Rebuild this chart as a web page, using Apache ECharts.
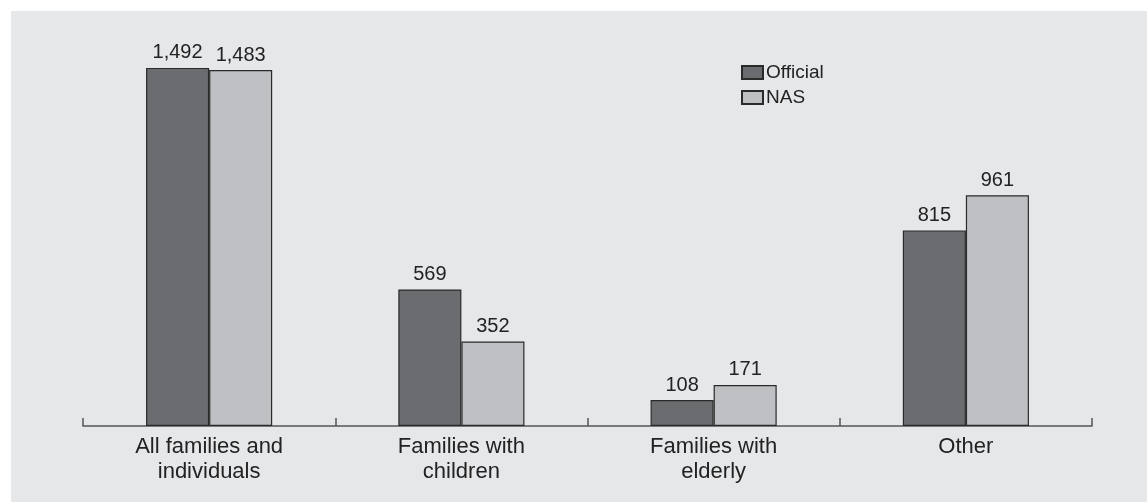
<!DOCTYPE html>
<html><head><meta charset="utf-8">
<script src="https://cdn.jsdelivr.net/npm/echarts@6/dist/echarts.min.js"></script>
<style>
html,body{margin:0;padding:0;background:#fff;width:1147px;height:502px;overflow:hidden;}
#c{position:absolute;left:11px;top:11px;width:1136px;height:491px;background:#e6e7e9;}
</style></head><body>
<div id="c"></div>
<script>
const categories = ['All families and\nindividuals', 'Families with\nchildren', 'Families with\nelderly', 'Other'];
const officialValues = [1492, 569, 108, 815];
const nasValues = [1483, 352, 171, 961];
const seriesNames = ['Official', 'NAS'];

const chart = echarts.init(document.getElementById('c'));
const font = '"Liberation Sans", Arial, Helvetica, sans-serif';
const labelFmt = p => p.value.toLocaleString('en-US');
chart.setOption({
  backgroundColor: '#e6e7e9',
  animation: false,
  textStyle: {fontFamily: font},
  legend: {
    orient: 'vertical', left: 730, top: 52, padding: 0,
    icon: 'rect', itemWidth: 21, itemHeight: 13, itemGap: 6,
    textStyle: {fontSize: 19, color: '#222', fontFamily: font, padding: [0, 0, 0, -2]},
    data: seriesNames
  },
  grid: {left: 72, right: 55, top: 55, bottom: 76},
  xAxis: {
    type: 'category', data: categories,
    axisLine: {show: true, lineStyle: {color: '#555', width: 1.5}},
    axisTick: {show: true, inside: true, length: 8, interval: 0, lineStyle: {color: '#555', width: 1.5}},
    axisLabel: {interval: 0, fontSize: 22, color: '#222', lineHeight: 25, margin: 8, fontFamily: font}
  },
  yAxis: {type: 'value', min: 0, max: 1500, show: false, splitLine: {show: false}},
  series: [
    {name: seriesNames[0], type: 'bar', data: officialValues, barWidth: '25%', barGap: '0%',
     itemStyle: {color: '#6b6c70', borderColor: '#2a2a2a', borderWidth: 1.2},
     label: {show: true, position: 'top', distance: 5, fontSize: 20, color: '#222', formatter: labelFmt, fontFamily: font}},
    {name: seriesNames[1], type: 'bar', data: nasValues, barWidth: '25%', barGap: '0%',
     itemStyle: {color: '#bfc0c3', borderColor: '#2a2a2a', borderWidth: 1.2},
     label: {show: true, position: 'top', distance: 5, fontSize: 20, color: '#222', formatter: labelFmt, fontFamily: font}}
  ]
});
</script></body></html>
